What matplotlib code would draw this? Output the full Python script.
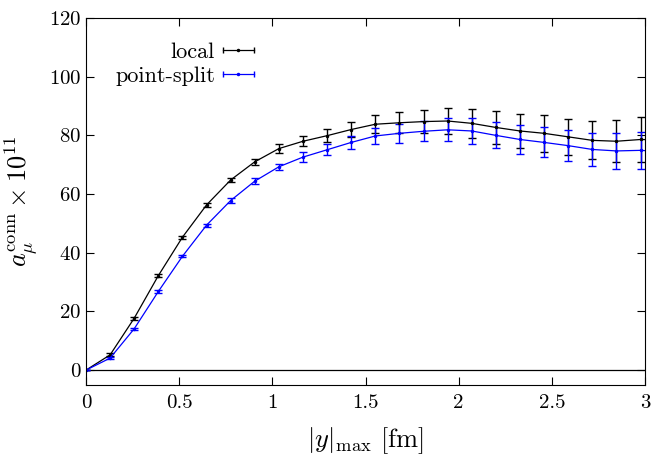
import matplotlib
matplotlib.use("Agg")
from matplotlib import pyplot as plt
from matplotlib.lines import Line2D
from matplotlib.legend_handler import HandlerLine2D
import numpy as np

plt.rcParams["font.family"] = "serif"
plt.rcParams["font.serif"] = ["cmr10"]
plt.rcParams["mathtext.fontset"] = "cm"
plt.rcParams["axes.formatter.use_mathtext"] = True

# lattice spacing ~0.1294 fm, points at n*a
step = 0.1294
n_pts = np.arange(25)
ymax = n_pts * step

local = [0, 5.2, 17.7, 32.2, 45.3, 56.3, 64.8, 71.0, 75.5, 78.0, 79.9, 82.0, 83.8,
         84.3, 84.7, 84.9, 84.1, 82.7, 81.5, 80.7, 79.5, 78.3, 78.0, 78.6, 78.4]
local_err = [0, 0.5, 0.5, 0.5, 0.5, 0.6, 0.8, 1.1, 1.5, 1.7, 2.2, 2.7, 3.1,
             3.6, 3.9, 4.6, 4.9, 5.5, 5.7, 6.2, 6.2, 6.5, 7.2, 7.8, 8.0]
split = [0, 4.1, 14.1, 26.8, 38.8, 49.4, 57.8, 64.4, 69.3, 72.6, 75.1, 77.6, 79.8,
         80.7, 81.4, 81.9, 81.5, 80.0, 78.6, 77.6, 76.5, 75.2, 74.7, 74.9, 74.4]
split_err = [0, 0.4, 0.4, 0.4, 0.4, 0.5, 0.7, 1.0, 1.1, 1.6, 1.9, 2.3, 2.7,
             3.2, 3.4, 3.9, 4.3, 4.4, 4.8, 5.1, 5.2, 5.5, 6.0, 6.3, 6.5]

fig = plt.figure(figsize=(6.6, 4.57), dpi=100)
ax = fig.add_axes([0.1303, 0.158, 0.847, 0.8026])

ax.axhline(0, color="black", lw=0.9)
ax.errorbar(ymax, local, yerr=local_err, fmt=".-", color="black", ms=3, lw=0.9,
            elinewidth=1.0, capsize=3, capthick=1.0)
ax.errorbar(ymax, split, yerr=split_err, fmt=".-", color="#0000ff", ms=3, lw=0.9,
            elinewidth=1.0, capsize=3, capthick=1.0)

# legend keys like gnuplot: line with dot in the middle and caps at both ends
hmap = {}
handles = []
for c in ["black", "#0000ff"]:
    ln = Line2D([], [], color=c, marker=".", ms=3, lw=0.9)
    caps = Line2D([], [], color=c, marker="|", ms=5, mew=1.0, ls="none")
    hmap[caps] = HandlerLine2D(numpoints=2, marker_pad=0)
    handles.append((ln, caps))
ax.legend(handles, ["local", "point-split"], loc="upper right", frameon=False,
          markerfirst=False, fontsize=16, bbox_to_anchor=(0.316, 0.958),
          borderaxespad=0, handlelength=1.4, handletextpad=0.35, labelspacing=0.2,
          handler_map=hmap)

ax.set_xlim(0, 3)
ax.set_ylim(-5, 120)
ax.set_xticks([0, 0.5, 1, 1.5, 2, 2.5, 3])
ax.set_xticklabels(["0", "0.5", "1", "1.5", "2", "2.5", "3"])
ax.set_yticks(range(0, 121, 20))
ax.tick_params(direction="in", top=True, right=True, labelsize=15, length=6, width=0.8)
ax.tick_params(axis="x", pad=7)
ax.set_xlabel(r"$|y|_{\rm max}$ [fm]", fontsize=19, labelpad=9)
ax.set_ylabel(r"$a_\mu^{\rm conn} \times 10^{11}$", fontsize=19, labelpad=6)

fig.savefig("out.png", dpi=100)
